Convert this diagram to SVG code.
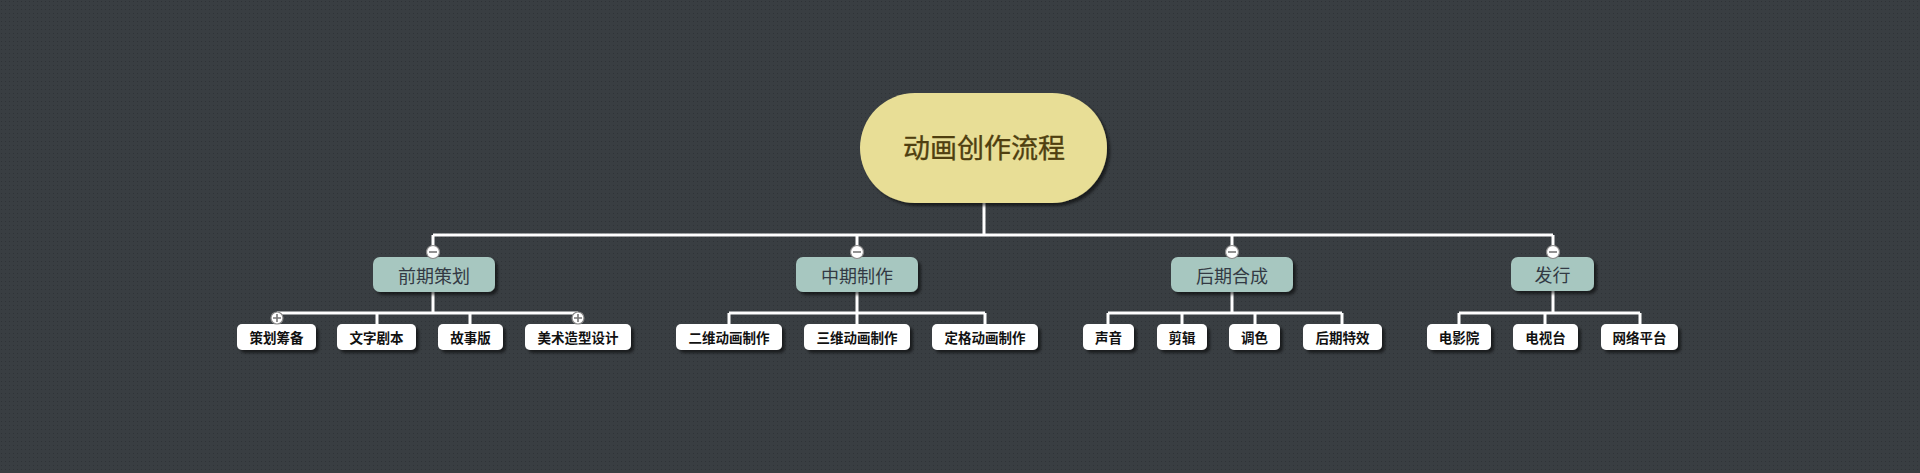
<svg xmlns="http://www.w3.org/2000/svg" width="1920" height="473" viewBox="0 0 1920 473">
<defs>
<pattern id="dots" width="4" height="4" patternUnits="userSpaceOnUse">
<rect width="4" height="4" fill="#393e42"/>
<rect x="1" y="1" width="1" height="1" fill="#2f3337"/>
</pattern>
<filter id="sh" x="-20%" y="-30%" width="140%" height="160%">
<feDropShadow dx="3" dy="3" stdDeviation="1.5" flood-color="#000" flood-opacity="0.55"/>
</filter>
</defs>
<style>
.root{fill:#e8de96;filter:url(#sh)}
.mid{fill:#a7c7c0;filter:url(#sh)}
.leaf{fill:#ffffff;filter:url(#sh)}
text{font-family:"Noto Sans CJK SC","Noto Sans",sans-serif;text-anchor:middle;dominant-baseline:central}
.rt{font-size:27px;fill:#4f3f10;stroke:#4f3f10;stroke-width:0.35}
.mt{font-size:18px;fill:#333a44}
.lt{font-size:13.5px;fill:#111;font-weight:bold}
.conn{fill:none;stroke:#ffffff;stroke-width:3}
.tog{fill:#ffffff;stroke:#8a8a8a;stroke-width:1.2}
.sign{stroke:#777;stroke-width:1.6}
</style>
<rect width="1920" height="473" fill="url(#dots)"/>

<g id="connectors">
<path class="conn" d="M984 203V235M433 235H1553M433 235V257M857 235V257M1232 235V257M1553 235V257"/>
<path class="conn" d="M433 292V313M277 313H578M277 313V324M377 313V324M470 313V324M578 313V324"/>
<path class="conn" d="M857 292V313M729 313H985M729 313V324M857 313V324M985 313V324"/>
<path class="conn" d="M1232 292V313M1108 313H1342M1108 313V324M1182 313V324M1255 313V324M1342 313V324"/>
<path class="conn" d="M1553 291V313M1459 313H1640M1459 313V324M1545 313V324M1640 313V324"/>
</g>

<g id="root">
<rect class="root" x="860" y="93" width="247" height="110" rx="55"/>
<text class="rt" x="984" y="146">动画创作流程</text>
</g>

<g id="n-qianqi">
<rect class="mid" x="373" y="257" width="122" height="35" rx="7"/>
<text class="mt" x="434" y="274.5">前期策划</text>
<circle class="tog" cx="433" cy="252" r="6.5"/><path class="sign" d="M429 252H437"/>
</g>
<g id="n-zhongqi">
<rect class="mid" x="796" y="257" width="122" height="35" rx="7"/>
<text class="mt" x="857" y="274.5">中期制作</text>
<circle class="tog" cx="857" cy="252" r="6.5"/><path class="sign" d="M853 252H861"/>
</g>
<g id="n-houqi">
<rect class="mid" x="1171" y="257" width="122" height="35" rx="7"/>
<text class="mt" x="1232" y="274.5">后期合成</text>
<circle class="tog" cx="1232" cy="252" r="6.5"/><path class="sign" d="M1228 252H1236"/>
</g>
<g id="n-faxing">
<rect class="mid" x="1511" y="257" width="83" height="34" rx="7"/>
<text class="mt" x="1552.5" y="274">发行</text>
<circle class="tog" cx="1553" cy="252" r="6.5"/><path class="sign" d="M1549 252H1557"/>
</g>

<g id="l-cehuachoubei">
<rect class="leaf" x="237" y="324" width="79" height="26" rx="5"/>
<text class="lt" x="276.5" y="337">策划筹备</text>
<circle class="tog" cx="277" cy="318" r="6"/><path class="sign" d="M273 318H281M277 314V322"/>
</g>
<g id="l-wenzijuben">
<rect class="leaf" x="337" y="324" width="79" height="26" rx="5"/>
<text class="lt" x="376.5" y="337">文字剧本</text>
</g>
<g id="l-gushiban">
<rect class="leaf" x="438" y="324" width="65" height="26" rx="5"/>
<text class="lt" x="470.5" y="337">故事版</text>
</g>
<g id="l-meishu">
<rect class="leaf" x="525" y="324" width="106" height="26" rx="5"/>
<text class="lt" x="578" y="337">美术造型设计</text>
<circle class="tog" cx="578" cy="318" r="6"/><path class="sign" d="M574 318H582M578 314V322"/>
</g>

<g id="l-erwei">
<rect class="leaf" x="676" y="324" width="106" height="26" rx="5"/>
<text class="lt" x="729" y="337">二维动画制作</text>
</g>
<g id="l-sanwei">
<rect class="leaf" x="804" y="324" width="106" height="26" rx="5"/>
<text class="lt" x="857" y="337">三维动画制作</text>
</g>
<g id="l-dingge">
<rect class="leaf" x="932" y="324" width="106" height="26" rx="5"/>
<text class="lt" x="985" y="337">定格动画制作</text>
</g>

<g id="l-shengyin">
<rect class="leaf" x="1083" y="324" width="51" height="26" rx="5"/>
<text class="lt" x="1108.5" y="337">声音</text>
</g>
<g id="l-jianji">
<rect class="leaf" x="1157" y="324" width="50" height="26" rx="5"/>
<text class="lt" x="1182" y="337">剪辑</text>
</g>
<g id="l-tiaose">
<rect class="leaf" x="1229" y="324" width="51" height="26" rx="5"/>
<text class="lt" x="1254.5" y="337">调色</text>
</g>
<g id="l-houqitexiao">
<rect class="leaf" x="1303" y="324" width="79" height="26" rx="5"/>
<text class="lt" x="1342.5" y="337">后期特效</text>
</g>

<g id="l-dianyingyuan">
<rect class="leaf" x="1427" y="324" width="64" height="26" rx="5"/>
<text class="lt" x="1459" y="337">电影院</text>
</g>
<g id="l-dianshitai">
<rect class="leaf" x="1513" y="324" width="65" height="26" rx="5"/>
<text class="lt" x="1545.5" y="337">电视台</text>
</g>
<g id="l-wangluo">
<rect class="leaf" x="1601" y="324" width="77" height="26" rx="5"/>
<text class="lt" x="1639.5" y="337">网络平台</text>
</g>
</svg>
